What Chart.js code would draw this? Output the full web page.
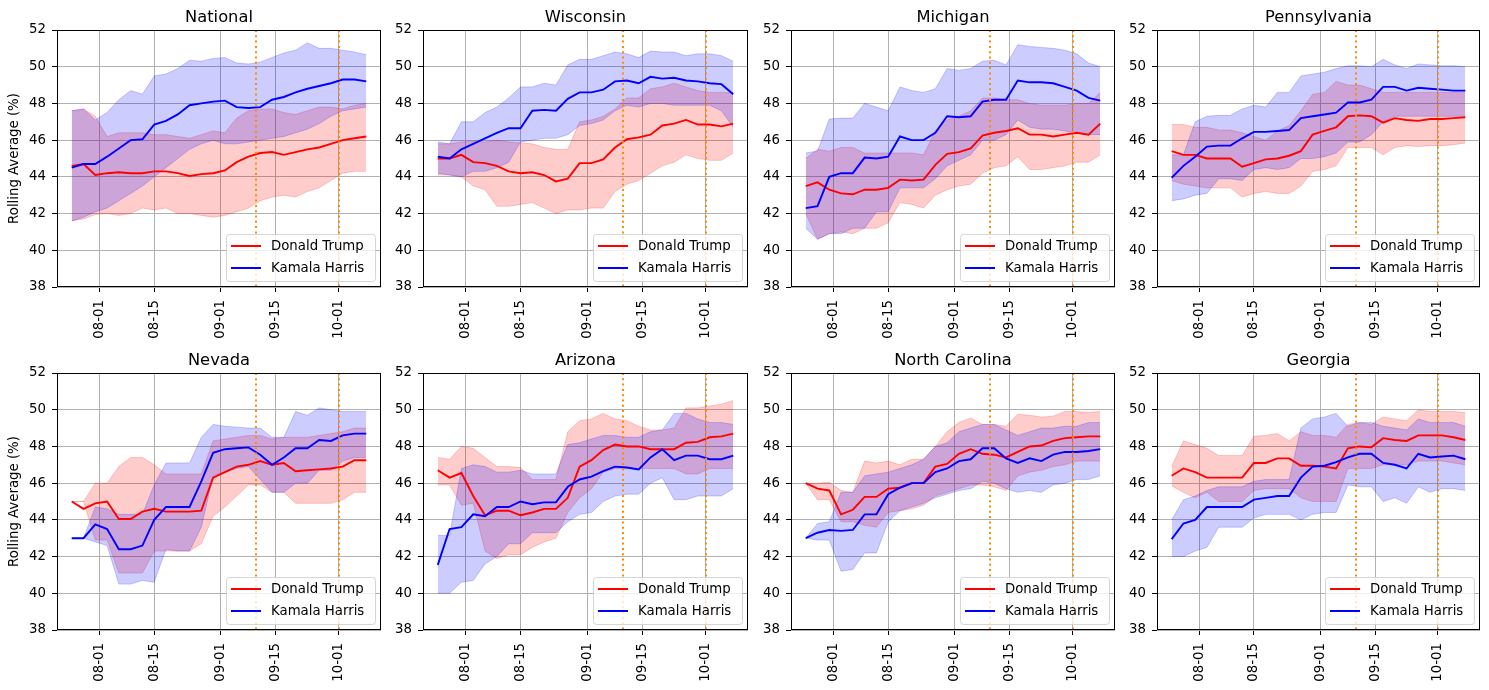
<!DOCTYPE html>
<html>
<head>
<meta charset="utf-8">
<script src="https://cdn.jsdelivr.net/npm/chart.js@4.4.1/dist/chart.umd.min.js"></script>
<style>
  body { margin: 0; background: #fff; overflow: hidden; width: 1489px; height: 690px; position: relative; }
  canvas { position: absolute; }
</style>
</head>
<body>
<script>
// Sample days, counted from 07-25 (day 0) to 10-08 (day 75)
const days = [0, 3, 6, 9, 12, 15, 18, 21, 24, 27, 30, 33, 36, 39, 42, 45, 48, 51, 54, 57, 60, 63, 66, 69, 72, 75];
const tickDays = [7, 21, 38, 52, 68];
const tickLabels = ['08-01', '08-15', '09-01', '09-15', '10-01'];
const markerDays = [47, 68]; // 09-10 and 10-01
const candidates = ['Donald Trump', 'Kamala Harris'];
const titles = ['National', 'Wisconsin', 'Michigan', 'Pennsylvania', 'Nevada', 'Arizona', 'North Carolina', 'Georgia'];

// National
const natTrump    = [44.6,44.7,44.1,44.2,44.25,44.2,44.2,44.3,44.3,44.2,44.05,44.15,44.2,44.35,44.8,45.1,45.3,45.35,45.2,45.35,45.5,45.6,45.8,46.0,46.1,46.2];
const natTrumpLo  = [41.6,41.7,41.95,42.0,41.9,42.0,42.3,42.2,42.3,42.0,42.0,41.9,41.8,41.9,42.1,42.3,42.7,42.9,43.0,42.9,43.2,43.4,43.8,44.2,44.3,44.3];
const natTrumpHi  = [47.6,47.7,47.3,46.2,46.4,46.4,46.4,46.3,46.3,46.2,46.1,46.3,46.5,46.4,47.2,47.6,47.7,47.7,47.5,47.4,47.6,47.8,47.8,47.7,47.9,48.0];
const natHarris   = [44.5,44.7,44.7,45.1,45.55,46.0,46.05,46.85,47.05,47.4,47.9,48.0,48.1,48.15,47.8,47.75,47.8,48.2,48.35,48.6,48.8,48.95,49.1,49.3,49.3,49.2];
const natHarrisLo = [41.6,41.8,42.1,42.3,42.7,43.1,43.5,44.0,44.5,45.0,45.5,45.8,46.0,45.8,45.8,45.9,46.0,46.1,46.2,46.4,46.6,46.9,47.3,47.6,47.7,47.8];
const natHarrisHi = [47.6,47.7,47.1,47.5,48.2,48.7,48.5,49.5,49.6,49.9,50.35,50.3,50.45,50.5,50.2,50.15,50.25,50.5,50.75,50.9,51.3,51.0,51.0,50.9,50.8,50.65];

// Wisconsin
const wiTrump    = [45.0,45.0,45.2,44.8,44.75,44.6,44.3,44.2,44.25,44.1,43.75,43.9,44.75,44.75,44.95,45.6,46.05,46.15,46.3,46.8,46.9,47.1,46.85,46.85,46.75,46.9];
const wiTrumpLo  = [44.1,44.1,44.0,43.5,43.3,42.4,42.4,42.5,42.6,42.3,42.0,42.2,42.2,42.3,42.3,43.2,43.6,43.8,44.2,44.6,44.8,45.2,45.0,44.9,44.9,45.3];
const wiTrumpHi  = [45.8,45.8,45.9,45.95,45.9,46.0,45.9,45.85,45.8,45.6,45.5,45.5,47.0,47.1,47.3,47.7,48.3,48.3,48.8,48.9,49.1,48.9,48.7,48.6,48.6,48.6];
const wiHarris   = [45.1,45.0,45.5,45.8,46.1,46.4,46.65,46.65,47.6,47.65,47.6,48.25,48.6,48.6,48.75,49.2,49.25,49.1,49.45,49.35,49.4,49.25,49.2,49.1,49.05,48.5];
const wiHarrisLo = [44.2,44.1,44.0,44.3,44.3,44.5,44.8,45.9,46.0,46.1,46.1,46.3,46.8,46.9,47.1,47.6,47.9,47.8,48.0,48.0,47.9,47.9,47.9,47.9,47.6,46.7];
const wiHarrisHi = [45.9,45.8,47.0,47.0,47.5,47.8,48.3,48.9,48.9,49.1,49.0,50.1,50.4,50.4,50.6,50.8,50.7,50.5,50.85,50.8,50.8,50.6,50.7,50.7,50.6,50.3];

// Michigan
const miTrump    = [43.5,43.7,43.3,43.1,43.05,43.3,43.3,43.4,43.85,43.8,43.85,44.65,45.25,45.35,45.55,46.25,46.4,46.5,46.65,46.3,46.3,46.2,46.3,46.4,46.3,46.9];
const miTrumpLo  = [42.0,40.6,40.9,41.0,40.9,41.2,41.2,41.5,42.6,42.5,42.3,43.0,43.3,43.5,43.6,44.2,44.5,44.6,45.1,44.4,44.4,44.5,44.6,44.8,44.8,45.2];
const miTrumpHi  = [45.0,45.5,45.4,45.6,45.6,45.3,45.3,45.3,45.3,45.3,45.2,46.5,47.1,47.3,47.6,48.3,48.3,48.2,48.2,48.0,47.9,47.9,47.9,48.0,48.0,48.6];
const miHarris   = [42.3,42.4,44.0,44.2,44.2,45.05,45.0,45.1,46.2,46.0,46.0,46.4,47.3,47.25,47.3,48.1,48.2,48.2,49.25,49.15,49.15,49.1,48.9,48.7,48.3,48.15];
const miHarrisLo = [41.2,40.6,40.9,40.9,41.2,41.2,42.1,42.1,43.4,43.4,43.4,43.9,44.6,44.9,45.2,46.0,46.0,46.3,47.1,46.7,46.6,46.6,46.5,46.4,46.3,46.3];
const miHarrisHi = [45.3,45.4,47.15,47.2,47.2,48.0,47.8,47.6,48.9,48.7,48.6,48.8,49.9,49.8,49.9,50.3,50.35,50.1,51.2,51.1,51.05,51.0,50.9,50.7,50.2,50.0];

// Pennsylvania
const paTrump    = [45.4,45.2,45.2,45.0,45.0,45.0,44.55,44.75,44.95,45.0,45.15,45.4,46.3,46.5,46.7,47.3,47.35,47.3,46.95,47.2,47.1,47.05,47.15,47.15,47.2,47.25];
const paTrumpLo  = [43.8,43.6,43.5,43.4,43.4,43.4,42.9,43.1,43.2,43.1,43.1,43.5,44.3,44.4,44.6,45.6,45.6,45.6,45.2,45.6,45.7,45.65,45.7,45.7,45.75,45.85];
const paTrumpHi  = [46.85,46.85,46.7,46.7,46.55,46.55,46.4,46.2,46.0,46.5,46.8,47.6,48.5,48.6,49.2,49.0,49.0,48.8,48.6,48.6,48.6,48.6,48.6,48.6,48.6,48.6];
const paHarris   = [43.95,44.6,45.1,45.65,45.7,45.7,46.1,46.45,46.45,46.5,46.55,47.2,47.3,47.4,47.5,48.05,48.05,48.2,48.9,48.9,48.7,48.85,48.8,48.75,48.7,48.7];
const paHarrisLo = [42.7,42.8,43.0,43.1,43.9,43.9,43.8,44.4,44.5,44.4,44.5,45.0,45.0,45.1,45.3,45.9,45.9,46.3,47.0,47.3,47.3,47.3,47.3,47.3,47.3,47.3];
const paHarrisHi = [45.2,45.2,47.0,47.3,47.35,47.35,47.7,47.9,47.8,48.6,48.6,49.5,49.6,49.7,49.9,50.05,50.05,50.0,50.4,50.1,49.9,50.15,50.1,50.05,50.05,50.0];

// Nevada
const nvTrump    = [45.0,44.6,44.9,45.0,44.05,44.05,44.45,44.6,44.45,44.45,44.45,44.5,46.3,46.6,46.9,47.0,47.2,47.0,47.1,46.65,46.7,46.75,46.8,46.9,47.25,47.25];
const nvTrumpLo  = [45.0,45.0,42.9,42.9,41.1,41.1,41.1,42.3,42.3,42.3,42.3,42.7,44.2,44.7,45.3,45.9,45.9,45.5,45.5,44.9,44.9,44.9,44.9,45.1,45.5,45.5];
const nvTrumpHi  = [45.0,45.0,46.0,46.0,46.9,47.4,47.4,47.0,46.5,46.5,46.5,46.5,48.3,48.4,48.5,48.6,48.6,48.4,48.5,48.5,48.5,48.6,48.7,48.8,49.0,49.0];
const nvHarris   = [43.0,43.0,43.75,43.5,42.4,42.4,42.6,44.0,44.7,44.7,44.7,46.1,47.65,47.85,47.9,47.95,47.55,47.0,47.4,47.9,47.9,48.35,48.3,48.6,48.7,48.7];
const nvHarrisLo = [43.0,43.0,42.8,42.6,40.5,40.5,40.7,40.6,42.4,42.3,42.3,43.6,46.4,46.6,46.8,46.9,46.2,45.5,45.5,46.0,46.0,46.7,46.7,47.2,47.4,47.4];
const nvHarrisHi = [43.0,43.0,44.7,44.6,44.3,44.3,44.3,45.9,47.1,47.1,47.1,48.5,49.2,49.1,49.05,49.0,49.0,48.5,48.5,49.9,49.7,50.1,50.0,49.9,49.9,49.9];

// Arizona
const azTrump    = [46.7,46.3,46.55,45.3,44.25,44.5,44.5,44.25,44.4,44.6,44.6,45.2,46.9,47.25,47.8,48.1,48.0,48.0,47.85,47.85,47.85,48.2,48.25,48.5,48.55,48.7];
const azTrumpLo  = [45.9,45.9,44.8,44.9,42.3,41.9,42.1,42.1,42.5,42.8,43.0,44.4,45.2,45.7,46.6,46.8,46.8,46.8,46.8,46.8,46.8,46.5,46.5,46.8,46.8,46.8];
const azTrumpHi  = [47.4,47.3,48.0,47.9,47.4,46.9,46.9,46.85,46.2,46.2,46.2,48.8,49.4,49.5,49.8,49.5,49.4,49.1,48.9,48.9,49.0,50.1,50.1,50.2,50.3,50.5];
const azHarris   = [41.55,43.5,43.6,44.3,44.2,44.7,44.7,45.0,44.85,44.95,44.95,45.8,46.2,46.35,46.65,46.9,46.85,46.75,47.4,47.85,47.25,47.5,47.5,47.3,47.3,47.5];
const azHarrisLo = [40.0,40.0,40.6,40.7,41.6,42.0,42.7,42.7,43.3,43.3,43.3,43.9,44.3,44.4,45.0,45.3,45.4,45.4,46.0,46.3,45.1,45.1,45.3,45.3,45.3,45.7];
const azHarrisHi = [43.15,43.15,46.8,47.0,46.9,46.6,46.6,46.7,46.5,46.5,46.5,48.1,48.2,48.4,48.6,48.6,48.5,48.5,48.8,48.9,49.8,49.8,49.5,49.3,49.3,49.2];

// North Carolina
const ncTrump    = [46.0,45.7,45.6,44.3,44.55,45.25,45.25,45.7,45.75,46.0,46.0,46.9,47.05,47.6,47.85,47.6,47.55,47.4,47.7,48.0,48.05,48.3,48.45,48.5,48.55,48.55];
const ncTrumpLo  = [46.0,45.1,45.1,43.9,43.9,43.7,43.6,44.4,44.5,44.6,44.8,45.3,45.5,45.7,45.9,45.9,45.8,45.6,46.4,46.6,46.7,46.9,47.0,47.2,47.2,47.2];
const ncTrumpHi  = [46.0,46.0,46.05,45.6,45.5,47.2,47.1,47.2,47.0,47.3,47.3,48.0,48.8,49.3,49.55,49.2,49.2,49.1,49.75,49.7,49.6,49.65,49.9,49.9,49.85,49.9];
const ncHarris   = [43.0,43.3,43.45,43.4,43.45,44.3,44.3,45.4,45.75,46.0,46.0,46.6,46.8,47.2,47.3,47.9,47.9,47.35,47.1,47.35,47.2,47.55,47.7,47.7,47.75,47.85];
const ncHarrisLo = [43.0,42.9,42.9,41.2,41.3,42.2,42.2,43.9,44.5,44.7,44.9,45.2,45.4,45.6,45.7,46.1,46.0,45.7,45.5,45.6,45.5,45.9,46.0,46.2,46.2,46.4];
const ncHarrisHi = [43.0,43.8,43.9,45.5,45.5,46.4,46.5,46.6,46.8,47.0,47.3,48.0,48.2,48.8,49.0,49.2,49.2,48.9,48.6,48.8,49.0,49.0,49.1,49.1,49.3,49.3];

// Georgia
const gaTrump    = [46.4,46.8,46.6,46.3,46.3,46.3,46.3,47.1,47.1,47.35,47.35,46.95,46.95,46.9,46.8,47.9,48.0,47.95,48.45,48.35,48.3,48.6,48.6,48.6,48.5,48.35];
const gaTrumpLo  = [45.85,45.5,45.2,45.5,45.0,45.0,45.0,45.6,45.7,45.7,45.7,45.2,45.0,45.0,45.0,46.8,46.8,46.8,47.0,47.0,47.0,47.2,47.2,47.2,47.1,47.0];
const gaTrumpHi  = [46.9,48.3,48.1,47.9,47.5,47.5,47.5,48.55,48.6,48.7,48.3,48.8,48.6,48.6,48.5,49.2,49.3,49.2,49.6,49.5,49.4,50.0,49.9,49.9,49.9,49.85];
const gaHarris   = [42.95,43.8,44.0,44.7,44.7,44.7,44.7,45.1,45.2,45.3,45.3,46.3,46.9,46.95,47.15,47.4,47.6,47.6,47.1,47.0,46.8,47.6,47.4,47.45,47.5,47.3];
const gaHarrisLo = [42.0,42.0,42.3,42.5,43.6,43.6,43.6,44.1,44.3,44.3,44.3,44.0,44.3,44.4,44.4,45.9,45.8,45.8,45.0,45.2,44.9,45.8,45.5,45.7,45.7,45.6];
const gaHarrisHi = [44.0,45.1,45.3,45.6,45.8,45.8,45.8,46.1,46.2,46.2,46.2,49.0,49.5,49.6,49.8,49.1,49.3,49.3,49.1,49.0,48.9,49.5,49.3,49.3,49.3,49.1];

const trumpSets = [
    [natTrump, natTrumpLo, natTrumpHi], [wiTrump, wiTrumpLo, wiTrumpHi],
    [miTrump, miTrumpLo, miTrumpHi], [paTrump, paTrumpLo, paTrumpHi],
    [nvTrump, nvTrumpLo, nvTrumpHi], [azTrump, azTrumpLo, azTrumpHi],
    [ncTrump, ncTrumpLo, ncTrumpHi], [gaTrump, gaTrumpLo, gaTrumpHi]
];
const harrisSets = [
    [natHarris, natHarrisLo, natHarrisHi], [wiHarris, wiHarrisLo, wiHarrisHi],
    [miHarris, miHarrisLo, miHarrisHi], [paHarris, paHarrisLo, paHarrisHi],
    [nvHarris, nvHarrisLo, nvHarrisHi], [azHarris, azHarrisLo, azHarrisHi],
    [ncHarris, ncHarrisLo, ncHarrisHi], [gaHarris, gaHarrisLo, gaHarrisHi]
];

// Panel geometry (plot area in page pixels)
const colLeft = [57, 423, 791, 1157];
const colWidth = [324, 325, 324, 323];
const rowTop = [30, 373];
const plotH = 257;
const PAD_L = 55, PAD_T = 30, PAD_R = 10, PAD_B = 62;
const FONT = '"DejaVu Sans", sans-serif';
const FS = 13.3;

function pts(values) {
    return days.map((d, i) => ({ x: d, y: values[i] }));
}

// Titles, frame, marker lines and legend
const panelDecor = {
    id: 'panelDecor',
    afterDatasetsDraw(chart, args, opts) {
        const { ctx, chartArea: a, scales: { x } } = chart;
        ctx.save();

        ctx.strokeStyle = '#ff8c00';
        ctx.lineWidth = 2;
        ctx.setLineDash([2, 3.3]);
        markerDays.forEach(d => {
            const px = Math.round(x.getPixelForValue(d));
            ctx.beginPath();
            ctx.moveTo(px, a.top);
            ctx.lineTo(px, a.bottom);
            ctx.stroke();
        });
        ctx.setLineDash([]);

        ctx.strokeStyle = '#000';
        ctx.lineWidth = 1;
        ctx.strokeRect(a.left + 0.5, a.top + 0.5, a.right - a.left - 1, a.bottom - a.top - 1);

        // title
        ctx.fillStyle = '#000';
        ctx.font = '16.3px ' + FONT;
        ctx.textAlign = 'center';
        ctx.textBaseline = 'alphabetic';
        ctx.fillText(opts.title, (a.left + a.right) / 2, a.top - 8);

        if (opts.yTitle) {
            ctx.save();
            ctx.translate(a.left - 42, (a.top + a.bottom) / 2);
            ctx.rotate(-Math.PI / 2);
            ctx.font = FS + 'px ' + FONT;
            ctx.textBaseline = 'middle';
            ctx.fillText('Rolling Average (%)', 0, 0);
            ctx.restore();
        }

        // legend box, lower right
        const bw = 149, bh = 47;
        const bx = a.right - 6 - bw, by = a.bottom - 6 - bh;
        ctx.beginPath();
        ctx.roundRect(bx + 0.5, by + 0.5, bw, bh, 3);
        ctx.fillStyle = 'rgba(255,255,255,0.8)';
        ctx.fill();
        ctx.strokeStyle = 'rgba(204,204,204,0.8)';
        ctx.stroke();

        const items = [chart.data.datasets[1], chart.data.datasets[0]];
        ctx.font = FS + 'px ' + FONT;
        ctx.textAlign = 'left';
        ctx.textBaseline = 'middle';
        items.forEach((ds, k) => {
            const yy = by + 12 + k * 22;
            ctx.strokeStyle = ds.borderColor;
            ctx.lineWidth = 2;
            ctx.beginPath();
            ctx.moveTo(bx + 5, yy);
            ctx.lineTo(bx + 35, yy);
            ctx.stroke();
            ctx.fillStyle = '#000';
            ctx.fillText(ds.label, bx + 45, yy + 1);
        });
        ctx.restore();
    }
};

titles.forEach((title, i) => {
    const col = i % 4, row = Math.floor(i / 4);
    const w = colWidth[col] + PAD_L + PAD_R;
    const h = plotH + PAD_T + PAD_B;
    const canvas = document.createElement('canvas');
    canvas.width = w;
    canvas.height = h;
    canvas.style.width = w + 'px';
    canvas.style.height = h + 'px';
    canvas.style.left = (colLeft[col] - PAD_L) + 'px';
    canvas.style.top = (rowTop[row] - PAD_T) + 'px';
    document.body.appendChild(canvas);

    const [tr, trLo, trHi] = trumpSets[i];
    const [ha, haLo, haHi] = harrisSets[i];

    new Chart(canvas, {
        type: 'line',
        data: {
            datasets: [
                { label: candidates[1], data: pts(ha), borderColor: '#0000ff', borderWidth: 1.9, pointRadius: 0, fill: false, order: 0 },
                { label: candidates[0], data: pts(tr), borderColor: '#ff0000', borderWidth: 1.9, pointRadius: 0, fill: false, order: 1 },
                { label: 'h-lo', data: pts(haLo), borderColor: 'rgba(0,0,255,0.2)', borderWidth: 1, pointRadius: 0, fill: false, order: 2 },
                { label: 'h-hi', data: pts(haHi), borderColor: 'rgba(0,0,255,0.2)', borderWidth: 1, pointRadius: 0,
                  fill: 2, backgroundColor: 'rgba(0,0,255,0.2)', order: 3 },
                { label: 't-lo', data: pts(trLo), borderColor: 'rgba(255,0,0,0.2)', borderWidth: 1, pointRadius: 0, fill: false, order: 4 },
                { label: 't-hi', data: pts(trHi), borderColor: 'rgba(255,0,0,0.2)', borderWidth: 1, pointRadius: 0,
                  fill: 4, backgroundColor: 'rgba(255,0,0,0.2)', order: 5 }
            ]
        },
        options: {
            responsive: false,
            animation: false,
            devicePixelRatio: 1,
            layout: { padding: { left: 0, top: PAD_T, right: PAD_R, bottom: 0 } },
            plugins: {
                legend: { display: false },
                tooltip: { enabled: false },
                panelDecor: { title: title, yTitle: col === 0 }
            },
            scales: {
                x: {
                    type: 'linear',
                    min: -3.75,
                    max: 78.75,
                    afterBuildTicks: scale => { scale.ticks = tickDays.map(v => ({ value: v })); },
                    afterFit: scale => { scale.height = PAD_B; },
                    border: { display: false },
                    grid: { color: '#b0b0b0', lineWidth: 1, tickColor: '#000', tickLength: 5 },
                    ticks: {
                        autoSkip: false, minRotation: 90, maxRotation: 90, padding: 8,
                        color: '#000', font: { family: FONT, size: FS },
                        callback: v => tickLabels[tickDays.indexOf(v)] || ''
                    }
                },
                y: {
                    min: 38,
                    max: 52,
                    afterFit: scale => { scale.width = PAD_L; },
                    border: { display: false },
                    grid: { color: '#b0b0b0', lineWidth: 1, tickColor: '#000', tickLength: 5 },
                    ticks: { stepSize: 2, padding: 6, color: '#000', font: { family: FONT, size: FS } }
                }
            }
        },
        plugins: [panelDecor]
    });
});
</script>
</body>
</html>
